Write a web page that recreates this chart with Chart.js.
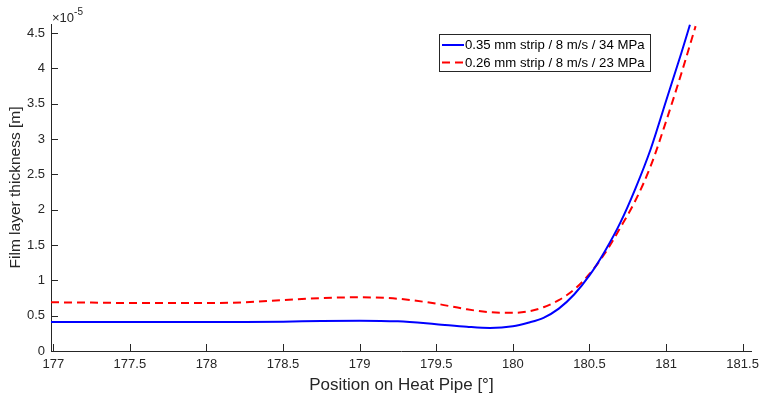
<!DOCTYPE html>
<html>
<head>
<meta charset="utf-8">
<script src="https://cdn.jsdelivr.net/npm/chart.js@4"></script>
<style>
  html, body { margin: 0; padding: 0; background: #fff; }
  #wrap { width: 765px; height: 396px; }
</style>
</head>
<body>
<div id="wrap"><canvas id="filmChart" width="765" height="396"></canvas></div>
<script>
// Film thickness along the heat pipe, values in units of 1e-5 m
const posThin = [176.985, 177.25, 177.5, 177.75, 178, 178.25, 178.5, 178.75, 179, 179.25, 179.5, 179.7, 179.85, 180, 180.1, 180.2, 180.3, 180.4, 180.5, 180.6, 180.7, 180.8, 180.9, 181, 181.1, 181.156];
const film035 = [0.41, 0.41, 0.41, 0.41, 0.41, 0.41, 0.415, 0.425, 0.43, 0.42, 0.38, 0.344, 0.327, 0.35, 0.40, 0.47, 0.60, 0.80, 1.07, 1.41, 1.81, 2.30, 2.86, 3.54, 4.22, 4.62];

const posThick = [176.985, 177.25, 177.5, 177.75, 178, 178.25, 178.5, 178.75, 179, 179.25, 179.5, 179.7, 179.85, 180, 180.1, 180.2, 180.3, 180.4, 180.5, 180.6, 180.7, 180.8, 180.9, 181, 181.1, 181.193];
const film026 = [0.69, 0.685, 0.68, 0.68, 0.68, 0.69, 0.72, 0.75, 0.76, 0.74, 0.67, 0.59, 0.55, 0.54, 0.56, 0.62, 0.72, 0.87, 1.09, 1.38, 1.74, 2.13, 2.62, 3.25, 3.93, 4.60];

const seriesNames = ['0.35 mm strip / 8 m/s / 34 MPa', '0.26 mm strip / 8 m/s / 23 MPa'];
const xTicks = [177, 177.5, 178, 178.5, 179, 179.5, 180, 180.5, 181, 181.5];
const yTicks = [0, 0.5, 1, 1.5, 2, 2.5, 3, 3.5, 4, 4.5];

const ink = '#262626';
const font = 'Liberation Sans, Arial, Helvetica, sans-serif';

const toPoints = (xs, ys) => xs.map((x, i) => ({ x: x, y: ys[i] }));

// inward ticks, exponent label and boxed legend
const decorations = {
    id: 'decorations',
    afterDraw(chart) {
        const ctx = chart.ctx;
        const xs = chart.scales.x, ys = chart.scales.y;
        const area = chart.chartArea;
        ctx.save();
        ctx.strokeStyle = ink;
        ctx.lineWidth = 1;
        ctx.beginPath();
        xTicks.forEach(v => {
            const px = Math.round(xs.getPixelForValue(v)) + 0.5;
            ctx.moveTo(px, area.bottom);
            ctx.lineTo(px, area.bottom - 7);
        });
        yTicks.forEach(v => {
            const py = Math.round(ys.getPixelForValue(v)) + 0.5;
            ctx.moveTo(area.left, py);
            ctx.lineTo(area.left + 7, py);
        });
        ctx.stroke();

        // ×10^-5
        ctx.fillStyle = ink;
        ctx.textBaseline = 'alphabetic';
        ctx.textAlign = 'left';
        ctx.font = '13px ' + font;
        ctx.fillText('\u00d710', area.left + 1, area.top - 2);
        const w = ctx.measureText('\u00d710').width;
        ctx.font = '10px ' + font;
        ctx.fillText('-5', area.left + 1 + w, area.top - 9);

        // legend
        const bx = 439.5, by = 34.5, bw = 211, bh = 37;
        ctx.fillStyle = '#fff';
        ctx.fillRect(bx, by, bw, bh);
        ctx.strokeStyle = ink;
        ctx.strokeRect(bx, by, bw, bh);
        const rows = [
            { y: 45, color: '#0000ff', dash: [] },
            { y: 62.5, color: '#ff0000', dash: [8, 5] }
        ];
        rows.forEach((r, i) => {
            ctx.strokeStyle = r.color;
            ctx.lineWidth = 2;
            ctx.setLineDash(r.dash);
            ctx.beginPath();
            ctx.moveTo(442, r.y);
            ctx.lineTo(464, r.y);
            ctx.stroke();
            ctx.setLineDash([]);
            ctx.fillStyle = '#000';
            ctx.font = '13.2px ' + font;
            ctx.textBaseline = 'middle';
            ctx.fillText(seriesNames[i], 465, r.y + 0.5);
        });
        ctx.restore();
    }
};

new Chart(document.getElementById('filmChart'), {
    type: 'scatter',
    data: {
        datasets: [
            {
                label: seriesNames[0],
                data: toPoints(posThin, film035),
                showLine: true,
                borderColor: '#0000ff',
                borderWidth: 2,
                pointRadius: 0,
                cubicInterpolationMode: 'monotone'
            },
            {
                label: seriesNames[1],
                data: toPoints(posThick, film026),
                showLine: true,
                borderColor: '#ff0000',
                borderWidth: 2,
                borderDash: [8, 5],
                pointRadius: 0,
                cubicInterpolationMode: 'monotone'
            }
        ]
    },
    options: {
        responsive: false,
        animation: false,
        layout: { padding: { top: 24, right: 8, left: 0, bottom: 0 } },
        plugins: {
            legend: { display: false },
            tooltip: { enabled: false }
        },
        scales: {
            x: {
                type: 'linear',
                min: 176.985,
                max: 181.56,
                afterFit: s => { s.height = 45; },
                afterBuildTicks: s => { s.ticks = xTicks.map(v => ({ value: v })); },
                border: { display: true, color: ink, width: 1 },
                grid: { display: false, drawTicks: false },
                ticks: {
                    color: ink,
                    font: { family: font, size: 13 },
                    padding: 6,
                    maxRotation: 0,
                    callback: v => String(v)
                },
                title: {
                    display: true,
                    text: 'Position on Heat Pipe [°]',
                    color: ink,
                    font: { family: font, size: 17 },
                    padding: { top: 0, bottom: 0 }
                }
            },
            y: {
                type: 'linear',
                min: 0,
                max: 4.63,
                afterFit: s => { s.width = 51; },
                afterBuildTicks: s => { s.ticks = yTicks.map(v => ({ value: v })); },
                border: { display: true, color: ink, width: 1 },
                grid: { display: false, drawTicks: false },
                ticks: {
                    color: ink,
                    font: { family: font, size: 13 },
                    padding: 6,
                    callback: v => String(v)
                },
                title: {
                    display: true,
                    text: 'Film layer thickness [m]',
                    color: ink,
                    font: { family: font, size: 15.5 },
                    padding: { top: 6, bottom: 0 }
                }
            }
        }
    },
    plugins: [decorations]
});
</script>
</body>
</html>
